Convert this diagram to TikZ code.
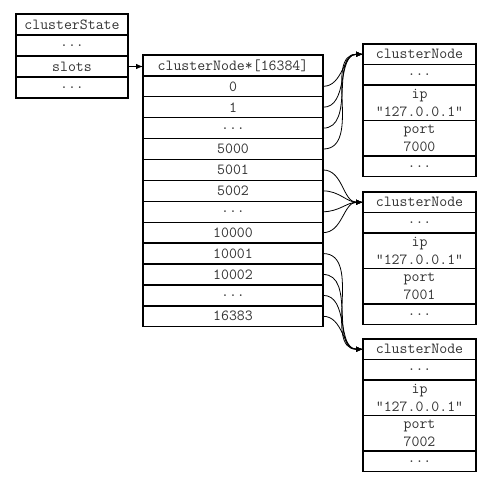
\documentclass[tikz,border=0pt]{standalone}
\usetikzlibrary{arrows.meta,positioning}
\tikzset{
  cell/.style={draw, rectangle, outer sep=0pt, inner sep=0pt, line width=1.4pt,
    font=\ttfamily\fontsize{15.4}{18}\selectfont, align=center, text=black!80},
  csrow/.style={cell, minimum width=112pt, minimum height=21pt},
  slotrow/.style={cell, minimum width=180pt, minimum height=20.9pt},
  cnrow/.style={cell, minimum width=113pt, minimum height=20.5pt},
  cnbig/.style={cell, minimum width=113pt, minimum height=35.5pt},
  ptr/.style={-{Latex[length=7pt,width=5.5pt]}, line width=0.8pt},
}
\begin{document}
\begin{tikzpicture}[x=1pt,y=-1pt]
\useasboundingbox (0,0) rectangle (496,487);
% clusterState
\node[csrow, anchor=north west] (cs) at (16,14) {clusterState};
\node[csrow, below=0pt of cs] (cs1) {...};
\node[csrow, below=0pt of cs1] (slots) {slots};
\node[csrow, below=0pt of slots] (cs2) {...};
% slots array
\node[slotrow, anchor=north west] (arr) at (143,55) {clusterNode*[16384]};
\node[slotrow, below=0pt of arr] (s1) {0};
\node[slotrow, below=0pt of s1] (s2) {1};
\node[slotrow, below=0pt of s2] (s3) {...};
\node[slotrow, below=0pt of s3] (s4) {5000};
\node[slotrow, below=0pt of s4] (s5) {5001};
\node[slotrow, below=0pt of s5] (s6) {5002};
\node[slotrow, below=0pt of s6] (s7) {...};
\node[slotrow, below=0pt of s7] (s8) {10000};
\node[slotrow, below=0pt of s8] (s9) {10001};
\node[slotrow, below=0pt of s9] (s10) {10002};
\node[slotrow, below=0pt of s10] (s11) {...};
\node[slotrow, below=0pt of s11] (s12) {16383};
% clusterNode 7000
\node[cnrow, anchor=north west] (cna) at (363,44) {clusterNode};
\node[cnrow, below=0pt of cna] (cna1) {...};
\node[cnbig, below=0pt of cna1] (cnaip) {ip\\"127.0.0.1"};
\node[cnbig, below=0pt of cnaip] (cnaport) {port\\7000};
\node[cnrow, below=0pt of cnaport] (cna2) {...};
% clusterNode 7001
\node[cnrow, anchor=north west] (cnb) at (363,192) {clusterNode};
\node[cnrow, below=0pt of cnb] (cnb1) {...};
\node[cnbig, below=0pt of cnb1] (cnbip) {ip\\"127.0.0.1"};
\node[cnbig, below=0pt of cnbip] (cnbport) {port\\7001};
\node[cnrow, below=0pt of cnbport] (cnb2) {...};
% clusterNode 7002
\node[cnrow, anchor=north west] (cnc) at (363,339) {clusterNode};
\node[cnrow, below=0pt of cnc] (cnc1) {...};
\node[cnbig, below=0pt of cnc1] (cncip) {ip\\"127.0.0.1"};
\node[cnbig, below=0pt of cncip] (cncport) {port\\7002};
\node[cnrow, below=0pt of cncport] (cnc2) {...};
% pointers
\draw[ptr] (slots.east) -- (slots.east -| arr.west);
\foreach \r in {s1,s2,s3,s4}
  \draw[ptr] (\r.east) to[out=0,in=180] (cna.west);
\foreach \r in {s5,s6,s7,s8}
  \draw[ptr] (\r.east) to[out=0,in=180] (cnb.west);
\foreach \r in {s9,s10,s11,s12}
  \draw[ptr] (\r.east) to[out=0,in=180] (cnc.west);
\end{tikzpicture}
\end{document}
